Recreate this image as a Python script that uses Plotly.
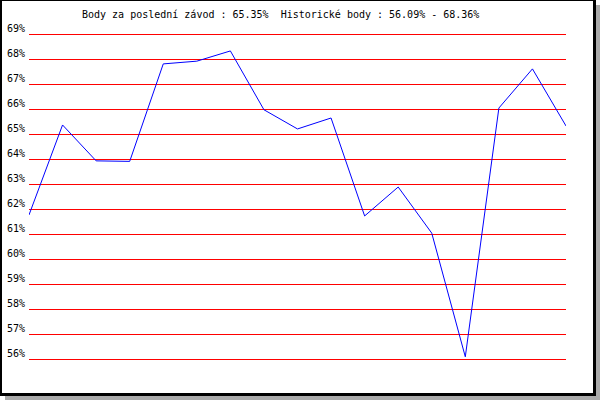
import plotly.graph_objects as go

# Data
race_index = list(range(1, 18))
points_pct = [61.78, 65.39, 63.95, 63.93, 67.84, 67.95, 68.36, 66.0, 65.23, 65.67,
              61.74, 62.90, 61.05, 56.09, 66.07, 67.64, 65.35]
y_ticks = list(range(56, 70))
y_tick_labels = [f"{v}%" for v in y_ticks]
title_text = "Body za poslední závod : 65.35%  Historické body : 56.09% - 68.36%"

W, H = 600, 400
Y_MIN, Y_MAX = 55.8, 69.2
PX_PER_UNIT = (359 - 35) / 13.0
L, R = 29, 566
T = round(35 - (Y_MAX - 69) * PX_PER_UNIT)
B = round(359 + (56 - Y_MIN) * PX_PER_UNIT)

def px(x):
    return (x - L) / (R - L)

def py(y):
    return (B - y) / (B - T)

FONT = "DejaVu Sans Mono"

fig = go.Figure()
fig.add_trace(go.Scatter(x=race_index, y=points_pct, mode="lines",
                         line=dict(color="#0000ff", width=1), hoverinfo="skip"))

shapes = [
    dict(type="rect", xref="paper", yref="paper", x0=px(5), x1=px(600), y0=py(400), y1=py(5),
         fillcolor="#aaaaaa", line=dict(width=0), layer="below"),
    dict(type="rect", xref="paper", yref="paper", x0=px(0), x1=px(596), y0=py(396), y1=py(0),
         fillcolor="#000000", line=dict(width=0), layer="below"),
    dict(type="rect", xref="paper", yref="paper", x0=px(2), x1=px(593), y0=py(393), y1=py(1),
         fillcolor="#ffffff", line=dict(width=0), layer="below"),
]

fig.update_layout(
    width=W, height=H,
    margin=dict(l=L, r=W - R, t=T, b=H - B, pad=0, autoexpand=False),
    paper_bgcolor="#ffffff",
    plot_bgcolor="rgba(0,0,0,0)",
    showlegend=False,
    shapes=shapes,
    font=dict(family=FONT, size=10, color="#000000"),
    annotations=[dict(text=title_text, xref="paper", yref="paper", x=px(280), y=py(14),
                      xanchor="center", yanchor="middle", showarrow=False,
                      font=dict(family=FONT, size=10, color="#000000"))],
)
fig.update_xaxes(range=[1, 17], showgrid=False, zeroline=False, showticklabels=False,
                 ticks="", showline=False, fixedrange=True, automargin=False)
fig.update_yaxes(range=[Y_MIN, Y_MAX], tickvals=y_ticks, ticktext=y_tick_labels,
                 showgrid=True, gridcolor="#ff0000", gridwidth=1, zeroline=False,
                 showline=False, ticks="", ticklabelshift=-6, ticklabelstandoff=3,
                 automargin=False,
                 tickfont=dict(family=FONT, size=10, color="#000000"), fixedrange=True)

fig.write_html("out.html", config={"displayModeBar": False},
               post_script="document.body.style.margin='0';document.body.style.overflow='hidden';")
